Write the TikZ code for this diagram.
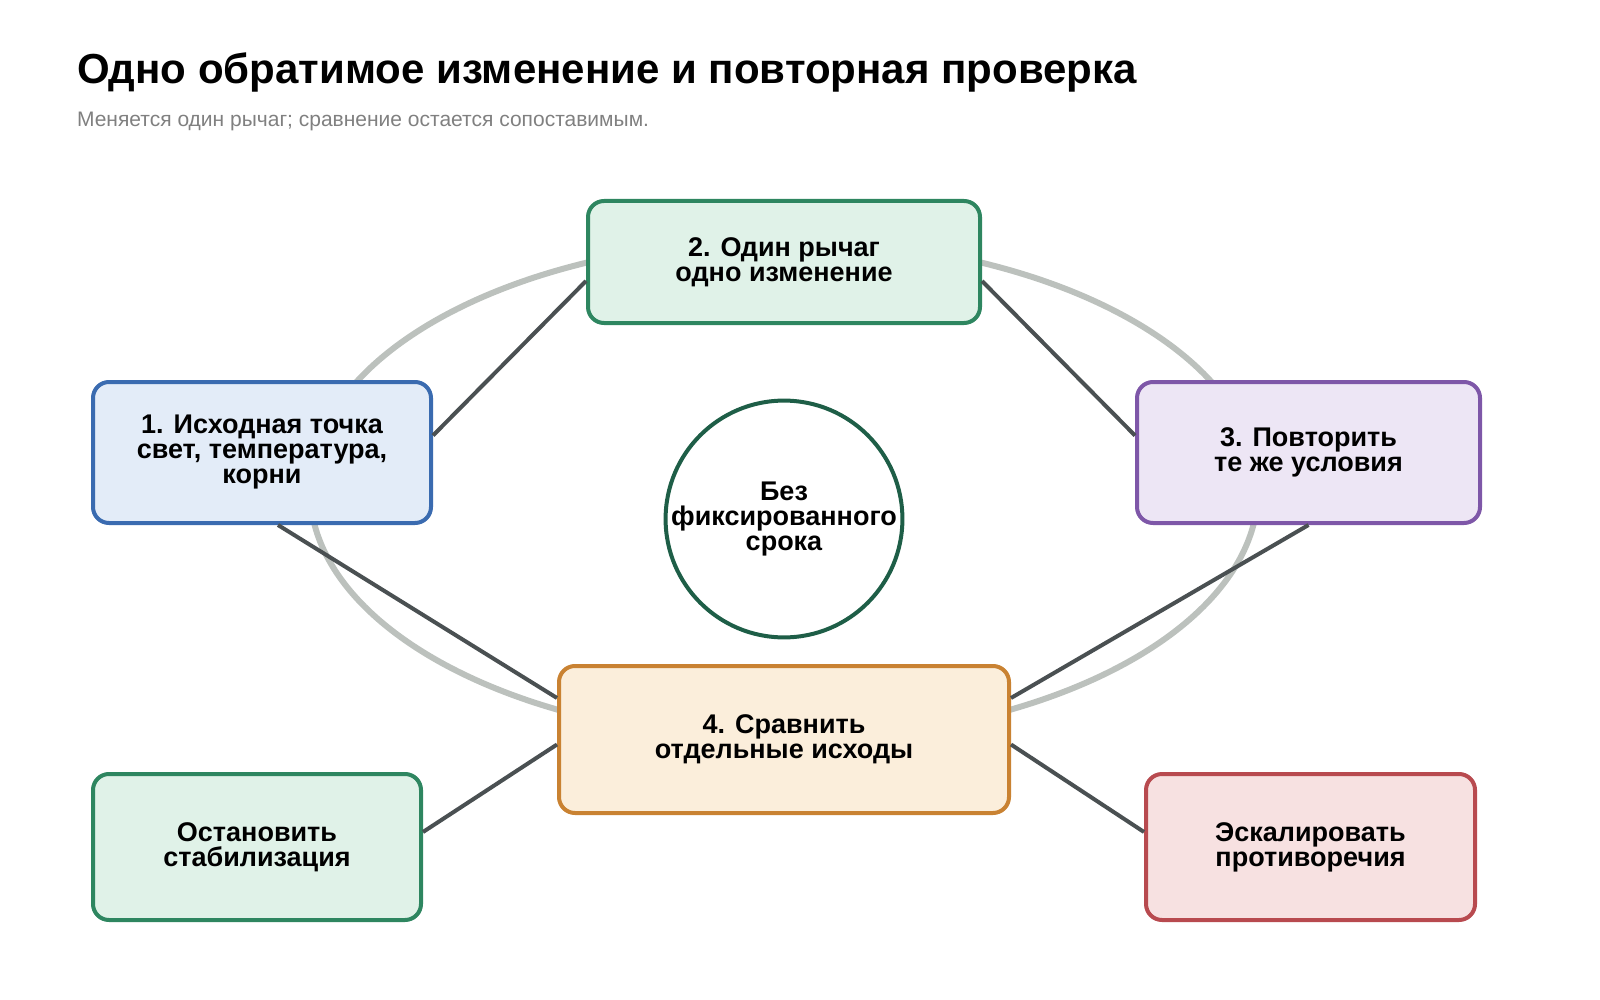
\documentclass[tikz,border=0pt]{standalone}
\usepackage{fontspec}
\setmainfont{Liberation Sans}
\begin{document}
\begin{tikzpicture}[x=0.5pt,y=-0.5pt,
 box/.style={draw,line width=2pt,rounded corners=8pt,align=center,font=\bfseries\fontsize{13.5}{12.5}\selectfont,inner sep=0pt}]
\definecolor{gF}{HTML}{E0F2E8}\definecolor{gD}{HTML}{2E8660}
\definecolor{bF}{HTML}{E3ECF8}\definecolor{bD}{HTML}{3A6BB0}
\definecolor{pF}{HTML}{EDE6F5}\definecolor{pD}{HTML}{7E57A8}
\definecolor{oF}{HTML}{FBEEDB}\definecolor{oD}{HTML}{C98232}
\definecolor{rF}{HTML}{F7E1E1}\definecolor{rD}{HTML}{B84A4F}
\definecolor{cD}{HTML}{1E5E47}\definecolor{el}{HTML}{BCC1BD}
\definecolor{ln}{HTML}{4A5052}
\useasboundingbox (0,0) rectangle (1600,1000);
\node[anchor=west,font=\bfseries\fontsize{21}{24}\selectfont] (t) at (70,72) {Одно обратимое изменение и повторная проверка};
\node[anchor=west,text=gray,font=\fontsize{10.5}{12}\selectfont] (s) at (70,121) {Меняется один рычаг; сравнение остается сопоставимым.};
\draw[el,line width=3pt] (784,490) ellipse [x radius=474, y radius=250];
\node[box,draw=gD,fill=gF,minimum width=196pt,minimum height=61pt] (b2) at (784,262) {2. Один рычаг\\одно изменение};
\node[box,draw=bD,fill=bF,minimum width=169pt,minimum height=70.5pt] (b1) at (262,452.5) {1. Исходная точка\\свет, температура,\\корни};
\node[box,draw=pD,fill=pF,minimum width=171.5pt,minimum height=70.5pt] (b3) at (1308.5,452.5) {3. Повторить\\те же условия};
\node[box,draw=oD,fill=oF,minimum width=225pt,minimum height=73.5pt] (b4) at (784,739.5) {4. Сравнить\\отдельные исходы};
\node[box,draw=gD,fill=gF,minimum width=164pt,minimum height=73pt] (st) at (257,847) {Остановить\\стабилизация};
\node[box,draw=rD,fill=rF,minimum width=164.5pt,minimum height=73pt] (es) at (1310.5,847) {Эскалировать\\противоречия};
\node[circle,draw=cD,line width=2pt,minimum size=108pt,inner sep=0pt,align=center,font=\bfseries\fontsize{13.5}{12.5}\selectfont] (c) at (784,519) {Без\\фиксированного\\срока};
\draw[ln,line width=2pt] ([yshift=8.5pt]b1.east) -- ([yshift=-9.5pt]b2.west);
\draw[ln,line width=2pt] ([yshift=-9.5pt]b2.east) -- ([yshift=8.5pt]b3.west);
\draw[ln,line width=2pt] ([xshift=8pt]b1.south) -- ([yshift=-17pt]b4.north west);
\draw[ln,line width=2pt] (b3.south) -- ([yshift=-17pt]b4.north east);
\draw[ln,line width=2pt] ([yshift=-2.5pt]b4.west) -- ([yshift=7.5pt]st.east);
\draw[ln,line width=2pt] ([yshift=-2.5pt]b4.east) -- ([yshift=7.5pt]es.west);
\end{tikzpicture}
\end{document}
